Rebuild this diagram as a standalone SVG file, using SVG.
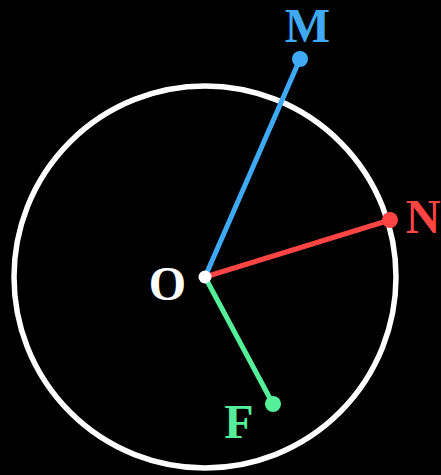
<svg xmlns="http://www.w3.org/2000/svg" width="441" height="475" viewBox="0 0 441 475">
<style>
.lbl{font-family:"Liberation Serif","Times New Roman",serif;font-weight:bold;font-size:48px;text-anchor:middle}
.seg{stroke-width:5;stroke-linecap:round;fill:none}
</style>
<rect width="441" height="475" fill="#000"/>
<g id="circle"><circle cx="205" cy="277" r="191" fill="none" stroke="#fff" stroke-width="5.5"/></g>
<g id="connectors">
<line class="seg" x1="205" y1="277" x2="300" y2="59" stroke="#3fa9f5"/>
<line class="seg" x1="205" y1="277" x2="390" y2="220" stroke="#ff4444"/>
<line class="seg" x1="205" y1="277" x2="273" y2="404" stroke="#55ee99"/>
</g>
<g id="O"><circle cx="205" cy="277" r="6.5" fill="#fff"/><text class="lbl" x="167.5" y="300" fill="#fff">O</text></g>
<g id="M"><circle cx="300" cy="59" r="8" fill="#3fa9f5"/><text class="lbl" x="307.5" y="42" fill="#3fa9f5">M</text></g>
<g id="N"><circle cx="390" cy="220" r="8" fill="#ff4444"/><text class="lbl" x="423" y="233" fill="#ff4444">N</text></g>
<g id="F"><circle cx="273" cy="404" r="8" fill="#55ee99"/><text class="lbl" x="239" y="438" fill="#55ee99">F</text></g>
</svg>
